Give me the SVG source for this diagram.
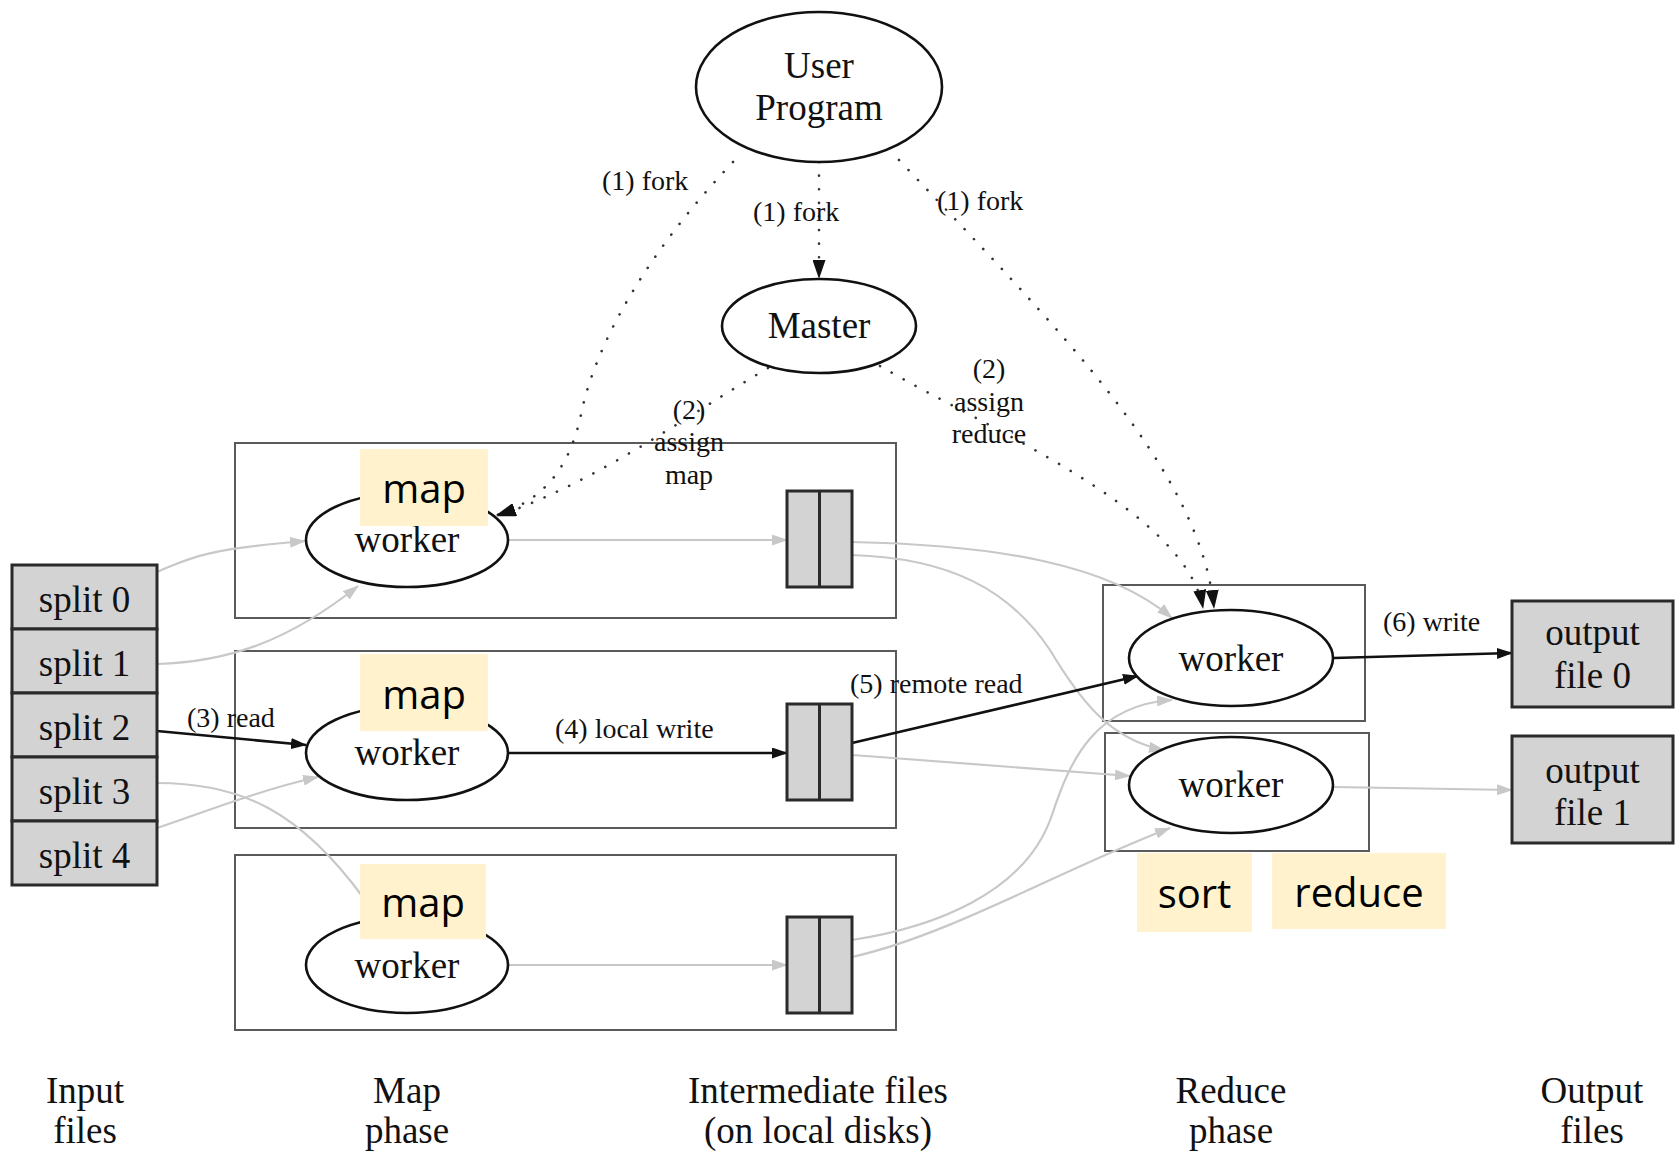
<svg xmlns="http://www.w3.org/2000/svg" width="1679" height="1152" viewBox="0 0 1679 1152">
<style>
  .bg{fill:#ffffff}
  .cluster{fill:none;stroke:#5a5a5a;stroke-width:2}
  .ell{fill:#ffffff;stroke:#111;stroke-width:2.6}
  .file{fill:#d3d3d3;stroke:#2a2a2a;stroke-width:3}
  .t{font-family:"Liberation Serif","Times New Roman",serif;font-size:37px;fill:#111;text-anchor:middle}
  .lab{font-family:"Liberation Serif","Times New Roman",serif;font-size:28px;fill:#111}
  .labc{font-family:"Liberation Serif","Times New Roman",serif;font-size:28px;fill:#111;text-anchor:middle}
  .note{fill:#fff2cc}
  .nt{font-family:"Open Sans","Noto Sans",sans-serif;font-size:40px;fill:#000;text-anchor:middle}
  .g{fill:none;stroke:#c8c8c8;stroke-width:2.2;marker-end:url(#ag)}
  .gn{fill:none;stroke:#c8c8c8;stroke-width:2.2}
  .b{fill:none;stroke:#111;stroke-width:2.6;marker-end:url(#ab)}
  .d{fill:none;stroke:#333;stroke-width:2.6;stroke-dasharray:0.1 13.5;stroke-linecap:round;marker-end:url(#ad)}
</style>
<defs>
  <marker id="ab" viewBox="0 0 16 11" refX="15" refY="5.5" markerWidth="16" markerHeight="11" markerUnits="userSpaceOnUse" orient="auto">
    <path d="M0,0 L16,5.5 L0,11 z" fill="#111"/>
  </marker>
  <marker id="ad" viewBox="0 0 19 13" refX="18" refY="6.5" markerWidth="19" markerHeight="13" markerUnits="userSpaceOnUse" orient="auto">
    <path d="M0,0 L19,6.5 L0,13 z" fill="#111"/>
  </marker>
  <marker id="ag" viewBox="0 0 16 11" refX="15" refY="5.5" markerWidth="16" markerHeight="11" markerUnits="userSpaceOnUse" orient="auto">
    <path d="M0,0 L16,5.5 L0,11 z" fill="#c8c8c8"/>
  </marker>
</defs>
<rect class="bg" x="0" y="0" width="1679" height="1152"/>

<g id="clusters">
  <rect id="map-cluster-0" class="cluster" x="235" y="443" width="661" height="175"/>
  <rect id="map-cluster-1" class="cluster" x="235" y="651" width="661" height="177"/>
  <rect id="map-cluster-2" class="cluster" x="235" y="855" width="661" height="175"/>
  <rect id="reduce-cluster-0" class="cluster" x="1103" y="585" width="262" height="136"/>
  <rect id="reduce-cluster-1" class="cluster" x="1105" y="733" width="264" height="118"/>
</g>

<g id="connectors">
  <!-- forks -->
  <path class="d" d="M819,162 L819,278"/>
  <path class="d" d="M733,162 C640,260 595,350 582,410 C572,460 550,498 497,515"/>
  <path class="d" d="M899,160 C1060,330 1200,470 1214,608"/>
  <!-- assign -->
  <path class="d" d="M768,368 C680,420 600,480 498,516"/>
  <path class="d" d="M880,366 C990,430 1185,510 1203,608"/>
  <!-- inputs -->
  <path class="g" d="M157,572 C190,558 200,550 305,541"/>
  <path class="g" d="M157,664 C230,662 290,640 358,586"/>
  <path class="b" d="M157,731 L306,745"/>
  <path class="gn" d="M157,783 C240,783 300,810 365,900"/>
  <path class="g" d="M157,828 C210,810 260,790 318,777"/>
  <!-- map to intermediate -->
  <path class="g" d="M508,540 L787,540"/>
  <path class="b" d="M508,753 L787,753"/>
  <path class="g" d="M508,965 L787,965"/>
  <!-- intermediate to reduce -->
  <path class="g" d="M852,542 C1000,545 1110,565 1172,618"/>
  <path class="g" d="M852,555 C950,558 1010,590 1050,650 C1080,700 1110,740 1164,750"/>
  <path class="b" d="M852,743 L1138,676"/>
  <path class="g" d="M852,755 C950,762 1050,770 1130,776"/>
  <path class="g" d="M852,940 C930,928 1025,895 1052,815 C1070,760 1095,705 1172,700"/>
  <path class="g" d="M852,957 C950,935 1060,870 1170,828"/>
  <!-- outputs -->
  <path class="b" d="M1334,658 L1512,653"/>
  <path class="g" d="M1334,787 L1512,790"/>
</g>

<g id="edge-labels">
  <text class="lab" x="602" y="190">(1) fork</text>
  <text class="lab" x="753" y="221">(1) fork</text>
  <text class="lab" x="937" y="210">(1) fork</text>
  <text class="labc" x="689" y="419">(2)</text>
  <text class="labc" x="689" y="451">assign</text>
  <text class="labc" x="689" y="484">map</text>
  <text class="labc" x="989" y="378">(2)</text>
  <text class="labc" x="989" y="411">assign</text>
  <text class="labc" x="989" y="443">reduce</text>
  <text class="lab" x="187" y="727">(3) read</text>
  <text class="lab" x="555" y="738">(4) local write</text>
  <text class="lab" x="850" y="693">(5) remote read</text>
  <text class="lab" x="1383" y="631">(6) write</text>
</g>

<g id="user-program">
  <ellipse class="ell" cx="819" cy="87" rx="123" ry="75"/>
  <text class="t" x="819" y="78">User</text>
  <text class="t" x="819" y="120">Program</text>
</g>

<g id="master">
  <ellipse class="ell" cx="819" cy="326" rx="97" ry="47"/>
  <text class="t" x="819" y="338">Master</text>
</g>

<g id="input-files">
  <rect class="file" x="12" y="565" width="145" height="64"/>
  <rect class="file" x="12" y="629" width="145" height="64"/>
  <rect class="file" x="12" y="693" width="145" height="64"/>
  <rect class="file" x="12" y="757" width="145" height="64"/>
  <rect class="file" x="12" y="821" width="145" height="64"/>
  <text class="t" x="84.5" y="612">split 0</text>
  <text class="t" x="84.5" y="676">split 1</text>
  <text class="t" x="84.5" y="740">split 2</text>
  <text class="t" x="84.5" y="804">split 3</text>
  <text class="t" x="84.5" y="868">split 4</text>
</g>

<g id="map-worker-0">
  <ellipse class="ell" cx="407" cy="540" rx="101" ry="47"/>
  <text class="t" x="407" y="552">worker</text>
</g>
<g id="map-worker-1">
  <ellipse class="ell" cx="407" cy="753" rx="101" ry="47"/>
  <text class="t" x="407" y="765">worker</text>
</g>
<g id="map-worker-2">
  <ellipse class="ell" cx="407" cy="965" rx="101" ry="48"/>
  <text class="t" x="407" y="978">worker</text>
</g>

<g id="intermediate-0">
  <rect class="file" x="787" y="491" width="65" height="96"/>
  <line x1="819.5" y1="491" x2="819.5" y2="587" stroke="#2a2a2a" stroke-width="3"/>
</g>
<g id="intermediate-1">
  <rect class="file" x="787" y="704" width="65" height="96"/>
  <line x1="819.5" y1="704" x2="819.5" y2="800" stroke="#2a2a2a" stroke-width="3"/>
</g>
<g id="intermediate-2">
  <rect class="file" x="787" y="917" width="65" height="96"/>
  <line x1="819.5" y1="917" x2="819.5" y2="1013" stroke="#2a2a2a" stroke-width="3"/>
</g>

<g id="reduce-worker-0">
  <ellipse class="ell" cx="1231" cy="658" rx="102" ry="48"/>
  <text class="t" x="1231" y="671">worker</text>
</g>
<g id="reduce-worker-1">
  <ellipse class="ell" cx="1231" cy="785" rx="102" ry="48"/>
  <text class="t" x="1231" y="797">worker</text>
</g>

<g id="output-file-0">
  <rect class="file" x="1512" y="601" width="161" height="106"/>
  <text class="t" x="1592.5" y="645">output</text>
  <text class="t" x="1592.5" y="688">file 0</text>
</g>
<g id="output-file-1">
  <rect class="file" x="1512" y="736" width="161" height="107"/>
  <text class="t" x="1592.5" y="783">output</text>
  <text class="t" x="1592.5" y="825">file 1</text>
</g>

<g id="note-map-0">
  <rect class="note" x="360" y="449" width="128" height="77"/>
  <text class="nt" x="424" y="503">map</text>
</g>
<g id="note-map-1">
  <rect class="note" x="360" y="654" width="128" height="77"/>
  <text class="nt" x="424" y="709">map</text>
</g>
<g id="note-map-2">
  <rect class="note" x="360" y="864" width="126" height="75"/>
  <text class="nt" x="423" y="917">map</text>
</g>
<g id="note-sort">
  <rect class="note" x="1137" y="853" width="115" height="79"/>
  <text class="nt" x="1194.5" y="908">sort</text>
</g>
<g id="note-reduce">
  <rect class="note" x="1272" y="853" width="174" height="76"/>
  <text class="nt" x="1359" y="907">reduce</text>
</g>

<g id="phase-labels">
  <text class="t" x="85" y="1103">Input</text>
  <text class="t" x="85" y="1143">files</text>
  <text class="t" x="407" y="1103">Map</text>
  <text class="t" x="407" y="1143">phase</text>
  <text class="t" x="818" y="1103">Intermediate files</text>
  <text class="t" x="818" y="1143">(on local disks)</text>
  <text class="t" x="1231" y="1103">Reduce</text>
  <text class="t" x="1231" y="1143">phase</text>
  <text class="t" x="1592" y="1103">Output</text>
  <text class="t" x="1592" y="1143">files</text>
</g>
</svg>
